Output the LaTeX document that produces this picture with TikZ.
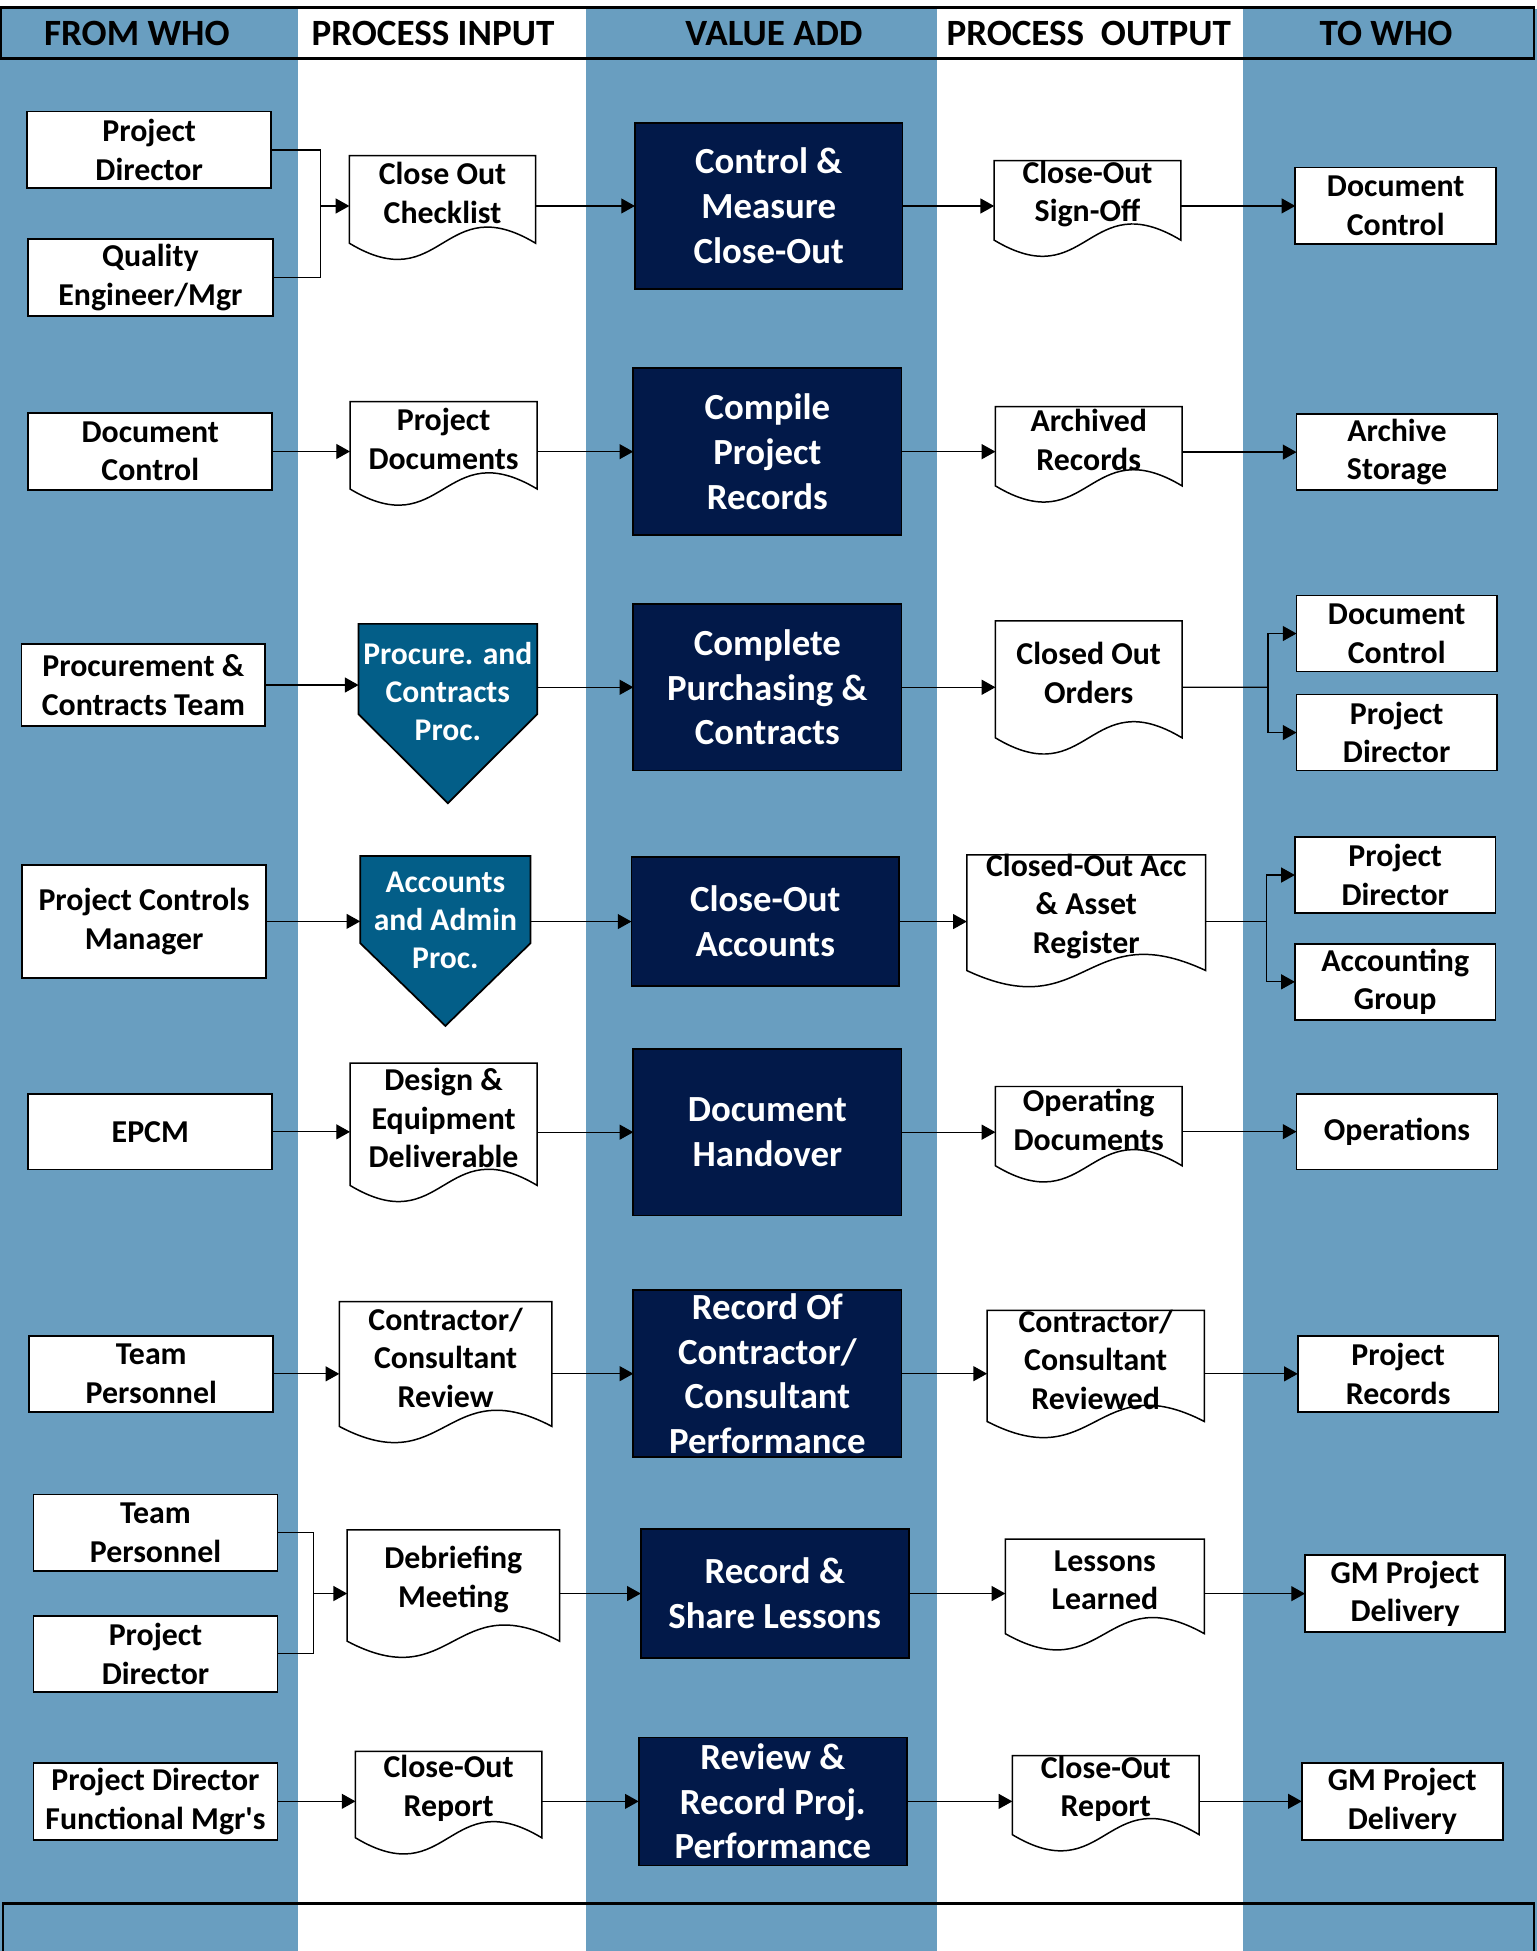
\documentclass[tikz,border=0pt]{standalone}
\usepackage{fontspec}
\setmainfont{Carlito}
\usetikzlibrary{arrows.meta,calc}
\definecolor{colblue}{RGB}{105,158,192}
\definecolor{navy}{RGB}{2,25,73}
\definecolor{tealc}{RGB}{3,94,136}
\pgfdeclarelayer{colbg}
\pgfdeclarelayer{shapes}
\pgfsetlayers{colbg,shapes,main}
\tikzset{
  wbox/.style={draw=black, fill=white, line width=0.7pt},
  wtxt/.style={inner sep=0pt, outer sep=0pt, align=center, text=black, font=\fontsize{12.8}{15.5}\selectfont\bfseries},
  nbox/.style={draw=black, fill=navy, line width=0.7pt},
  ntxt/.style={inner sep=0pt, outer sep=0pt, align=center, text=white, font=\fontsize{14.8}{18}\selectfont\bfseries},
  docshape/.style={draw=black, fill=white, line width=0.6pt},
  pentshape/.style={draw=black, fill=tealc, line width=0.7pt},
  ptxt/.style={inner sep=0pt, outer sep=0pt, align=center, text=white, font=\fontsize{12.7}{15.25}\selectfont\bfseries},
  hdr/.style={anchor=base, inner sep=0pt, font=\fontsize{14.9}{17}\selectfont\bfseries},
  conn/.style={draw=black, line width=0.5pt},
  arr/.style={conn, -{Triangle[length=5.5pt,width=6pt]}},
}
% box: name x1 y1 x2 y2 kind(w/n) text
\newcommand{\mybox}[7]{%
  \begin{pgfonlayer}{shapes}\draw[#6box] (#2,#3) rectangle (#4,#5);\end{pgfonlayer}
  \node[#6txt, minimum width={(#4-#2)*0.5pt}, minimum height={(#5-#3)*0.5pt}] (#1) at ({(#2+#4)/2},{(#3+#5)/2}) {#7};}
% document: name x1 y1 x2 ybottom text
\newcommand{\mydoc}[6]{%
  \begin{pgfonlayer}{shapes}\draw[docshape] (#2,#5) -- (#2,#3) -- (#4,#3) -- (#4,#5) .. controls ({(#2+#4)/2},{#5-45}) and ({(#2+#4)/2},{#5+45}) .. (#2,#5) -- cycle;\end{pgfonlayer}
  \node[wtxt, minimum width={(#4-#2)*0.5pt}, minimum height={(#5-#3-10)*0.5pt}] (#1) at ({(#2+#4)/2},{(#3+#5-10)/2}) {#6};}
% pentagon: name x1 y1 x2 yside ytip ytext text
\newcommand{\mypent}[8]{%
  \begin{pgfonlayer}{shapes}\draw[pentshape] (#2,#3) -- (#4,#3) -- (#4,#5) -- ({(#2+#4)/2},#6) -- (#2,#5) -- cycle;\end{pgfonlayer}
  \node[ptxt, minimum width={(#4-#2)*0.5pt}, minimum height={2*(#7-#3)*0.5pt}] (#1) at ({(#2+#4)/2},#7) {#8};}
\begin{document}
\begin{tikzpicture}[x=0.5pt,y=-0.5pt]
\useasboundingbox (0,0) rectangle (1235,1568);
\begin{pgfonlayer}{colbg}
  \fill[white] (0,0) rectangle (1235,1568);
  \fill[colblue] (0,7) rectangle (239.5,1568);
  \fill[colblue] (471,7) rectangle (753,1568);
  \fill[colblue] (998.7,7) rectangle (1235,1568);
\end{pgfonlayer}
% header
\draw[line width=1pt] (1,6) rectangle (1233,47);
\node[hdr] (h1) at (110,36.2) {FROM WHO};
\node[hdr] (h2) at (348,36.2) {PROCESS INPUT};
\node[hdr] (h3) at (622,36.2) {VALUE ADD};
\node[hdr] (h4) at (875,36.2) {PROCESS~~OUTPUT};
\node[hdr] (h5) at (1114,36.2) {TO WHO};
% bottom frame
\draw[line width=1pt] (2.5,1580) -- (2.5,1530) -- (1233,1530) -- (1233,1580);

% Row 1
\mybox{pda}{21.8}{89.7}{218}{151.3}{w}{Project\\Director}
\mybox{qe}{22.5}{192}{219.3}{253.7}{w}{Quality\\Engineer/Mgr}
\mydoc{chk}{280.8}{125}{430.5}{195.5}{Close Out\\Checklist}
\mybox{cm}{510.3}{98.6}{725.4}{232.5}{n}{Control \&\\Measure\\Close-Out}
\mydoc{so}{799}{129}{949}{193}{Close-Out\\Sign-Off}
\mybox{dca}{1041}{134.7}{1202.4}{196.3}{w}{Document\\Control}
\coordinate (j1) at (257.5,165.55);
\draw[conn] (pda.east) -| (j1) |- (qe.east);
\draw[arr] (j1) -- (j1 -| chk.west);
\draw[arr] (chk.east |- cm.west) -- (cm.west);
\draw[arr] (cm.east) -- (cm.east -| so.west);
\draw[arr] (so.east |- dca.west) -- (dca.west);

% Row 2
\mybox{dcb}{22.8}{332}{218.8}{393.7}{w}{Document\\Control}
\mydoc{pdoc}{281.3}{322.8}{431.7}{393}{Project\\Documents}
\mybox{cpr}{508.9}{296}{724.5}{430}{n}{Compile\\Project\\Records}
\mydoc{arc}{800}{326.8}{950}{390.5}{Archived\\Records}
\mybox{ast}{1042}{333}{1203.5}{393.7}{w}{Archive\\Storage}
\draw[arr] (dcb.east) -- (dcb.east -| pdoc.west);
\draw[arr] (pdoc.east |- cpr.west) -- (cpr.west);
\draw[arr] (cpr.east) -- (cpr.east -| arc.west);
\draw[arr] (arc.east |- ast.west) -- (ast.west);

% Row 3
\mybox{pct}{17.2}{517.7}{213.2}{583.4}{w}{Procurement \&\\Contracts Team}
\mypent{pcp}{288.2}{501.4}{431.7}{574}{645.5}{556}{Procure. and\\Contracts\\Proc.}
\mybox{cpc}{509}{485.4}{724.5}{619.3}{n}{Complete\\Purchasing \&\\Contracts}
\mydoc{coo}{800}{499}{950}{593}{Closed Out\\Orders}
\mybox{dcc}{1042}{478.6}{1203}{539.7}{w}{Document\\Control}
\mybox{pdc}{1042}{558.2}{1203}{619.3}{w}{Project\\Director}
\coordinate (s3) at (1019,552.35);
\draw[arr] (pct.east) -- (pct.east -| pcp.west);
\draw[arr] (pcp.east |- cpc.west) -- (cpc.west);
\draw[arr] (cpc.east) -- (cpc.east -| coo.west);
\draw[conn] (coo.east |- cpc.east) -- (s3);
\draw[arr] (s3) |- (dcc.west);
\draw[arr] (s3) |- (pdc.west);

% Row 4
\mybox{pcm}{17.6}{695}{214}{786}{w}{Project Controls\\Manager}
\mypent{aap}{289.5}{688}{426.4}{758}{824.5}{739.5}{Accounts\\and Admin\\Proc.}
\mybox{coa}{507.5}{689}{722.5}{792.3}{n}{Close-Out\\Accounts}
\mydoc{car}{777}{687}{969}{780}{Closed-Out Acc\\\& Asset\\Register}
\mybox{pdd}{1040.7}{672.7}{1202}{733.8}{w}{Project\\Director}
\mybox{acg}{1040.7}{758.6}{1202}{819.6}{w}{Accounting\\Group}
\coordinate (s4) at (1017.6,740.65);
\draw[arr] (pcm.east) -- (pcm.east -| aap.west);
\draw[arr] (aap.east |- coa.west) -- (coa.west);
\draw[arr] (coa.east) -- (coa.east -| car.west);
\draw[conn] (car.east |- coa.east) -- (s4);
\draw[arr] (s4) |- (pdd.west);
\draw[arr] (s4) |- (acg.west);

% Row 5
\mybox{epcm}{22.8}{879.3}{218.8}{940}{w}{EPCM}
\mydoc{deq}{281.3}{854.4}{431.7}{952.7}{Design \&\\Equipment\\Deliverable}
\mybox{dho}{509}{843}{724.5}{976.8}{n}{Document\\Handover}
\mydoc{opd}{800}{873.2}{950}{936.9}{Operating\\Documents}
\mybox{ops}{1042}{879}{1203.5}{940}{w}{Operations}
\draw[arr] (epcm.east) -- (epcm.east -| deq.west);
\draw[arr] (deq.east |- dho.west) -- (dho.west);
\draw[arr] (dho.east) -- (dho.east -| opd.west);
\draw[arr] (opd.east |- ops.west) -- (ops.west);

% Row 6
\mybox{tpa}{23.6}{1073.5}{219.6}{1134.8}{w}{Team\\Personnel}
\mydoc{ccr}{272.7}{1046}{443.6}{1146.4}{Contractor/\\Consultant\\Review}
\mybox{rcp}{509}{1037}{724.5}{1171}{n}{Record Of\\Contractor/\\Consultant\\Performance}
\mydoc{ccv}{793.3}{1053.2}{967.9}{1142.4}{Contractor/\\Consultant\\Reviewed}
\mybox{prr}{1043}{1073.5}{1204.4}{1134.8}{w}{Project\\Records}
\draw[arr] (tpa.east) -- (tpa.east -| ccr.west);
\draw[arr] (ccr.east |- rcp.west) -- (rcp.west);
\draw[arr] (rcp.east) -- (rcp.east -| ccv.west);
\draw[arr] (ccv.east |- prr.west) -- (prr.west);

% Row 7
\mybox{tpb}{27}{1201}{223}{1262.4}{w}{Team\\Personnel}
\mybox{pde}{27}{1298.5}{223}{1359.6}{w}{Project\\Director}
\mydoc{dbm}{279}{1229.5}{449.7}{1319}{Debriefing\\Meeting}
\mybox{rsl}{515}{1228.9}{730.4}{1332.5}{n}{Record \&\\Share Lessons}
\mydoc{lsl}{808}{1237}{968}{1313}{Lessons\\Learned}
\mybox{gma}{1048.8}{1250}{1209.7}{1311.6}{w}{GM Project\\Delivery}
\coordinate (j7) at (251.7,1280.7);
\draw[conn] (tpb.east) -| (j7) |- (pde.east);
\draw[arr] (j7) -- (j7 -| dbm.west);
\draw[arr] (dbm.east |- rsl.west) -- (rsl.west);
\draw[arr] (rsl.east) -- (rsl.east -| lsl.west);
\draw[arr] (lsl.east |- gma.west) -- (gma.west);

% Row 8
\mybox{pdf}{27}{1416.9}{223}{1478.5}{w}{Project Director\\Functional Mgr\textquotesingle s}
\mydoc{cra}{285.7}{1407.5}{435.4}{1477}{Close-Out\\Report}
\mybox{rrp}{513.3}{1396.3}{729}{1499.2}{n}{Review \&\\Record Proj.\\Performance}
\mydoc{crb}{813.6}{1411}{963.8}{1474.5}{Close-Out\\Report}
\mybox{gmb}{1046.2}{1416.9}{1207.9}{1478.5}{w}{GM Project\\Delivery}
\draw[arr] (pdf.east) -- (pdf.east -| cra.west);
\draw[arr] (cra.east |- rrp.west) -- (rrp.west);
\draw[arr] (rrp.east) -- (rrp.east -| crb.west);
\draw[arr] (crb.east |- gmb.west) -- (gmb.west);
\end{tikzpicture}
\end{document}
